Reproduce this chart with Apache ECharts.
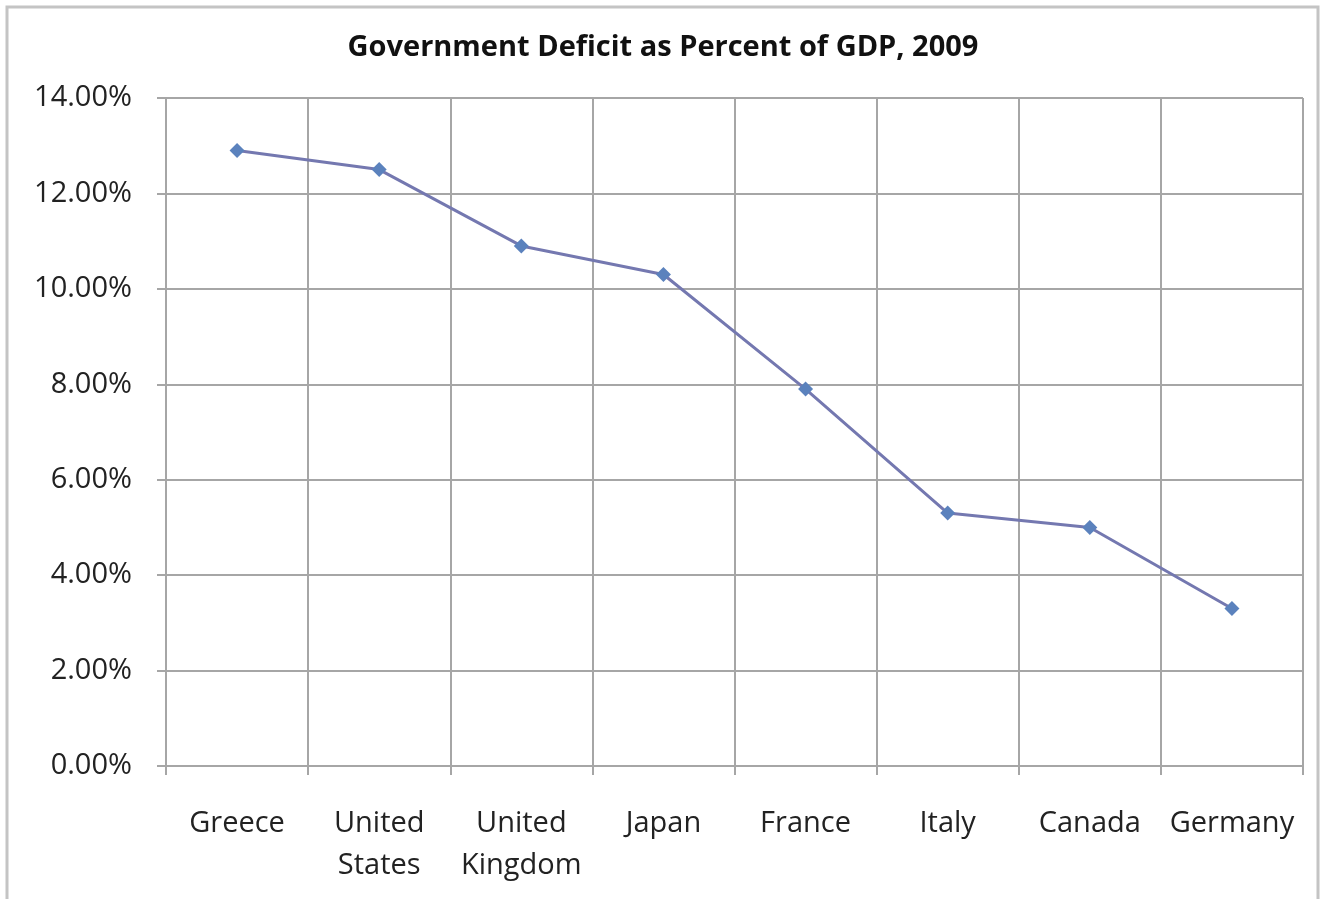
<!DOCTYPE html>
<html><head><meta charset="utf-8">
<script src="https://cdn.jsdelivr.net/npm/echarts@6/dist/echarts.min.js"></script>
<style>html,body{margin:0;padding:0;background:#fff}#c{width:1326px;height:899px}</style>
</head><body><div id="c"></div>
<script>
const categories = ['Greece', 'United\nStates', 'United\nKingdom', 'Japan', 'France', 'Italy', 'Canada', 'Germany'];
const deficitPct = [12.9, 12.5, 10.9, 10.3, 7.9, 5.3, 5.0, 3.3];
const yTicks = [0, 2, 4, 6, 8, 10, 12, 14];
const titleText = 'Government Deficit as Percent of GDP, 2009';

const chart = echarts.init(document.getElementById('c'), null, {renderer: 'canvas'});
const font = '"Open Sans", "Noto Sans", sans-serif';
const grey = '#a6a6a6';
chart.setOption({
  backgroundColor: '#fff',
  animation: false,
  title: {
    text: titleText, left: 'center', top: 28,
    textStyle: {fontFamily: font, fontWeight: 'bold', fontSize: 29, color: '#111'}
  },
  graphic: [{
    type: 'rect', shape: {x: 7, y: 7, width: 1311, height: 905},
    style: {fill: 'none', stroke: '#c4c4c4', lineWidth: 3}, silent: true
  }],
  grid: {left: 166, right: 23, top: 98, bottom: 133, containLabel: false},
  xAxis: {
    type: 'category', data: categories, boundaryGap: true,
    axisLine: {show: true, lineStyle: {color: grey, width: 2}},
    axisTick: {show: true, length: 9, alignWithLabel: false, lineStyle: {color: grey, width: 2}},
    splitLine: {show: true, lineStyle: {color: grey, width: 2}},
    axisLabel: {fontFamily: font, fontSize: 29, color: '#222', margin: 37, lineHeight: 42, interval: 0}
  },
  yAxis: {
    type: 'value', min: yTicks[0], max: yTicks[yTicks.length - 1], interval: 2,
    axisLine: {show: true, lineStyle: {color: grey, width: 2}},
    axisTick: {show: true, length: 9, lineStyle: {color: grey, width: 2}},
    splitLine: {show: true, lineStyle: {color: grey, width: 2}},
    axisLabel: {fontFamily: font, fontSize: 29, color: '#222', margin: 34, padding: [10, 0, 0, 0],
      formatter: v => v.toFixed(2) + '%'}
  },
  series: [{
    type: 'line', data: deficitPct,
    symbol: 'diamond', symbolSize: 15,
    lineStyle: {color: '#7478b0', width: 3},
    itemStyle: {color: '#5b82bd'}
  }]
});
</script></body></html>
